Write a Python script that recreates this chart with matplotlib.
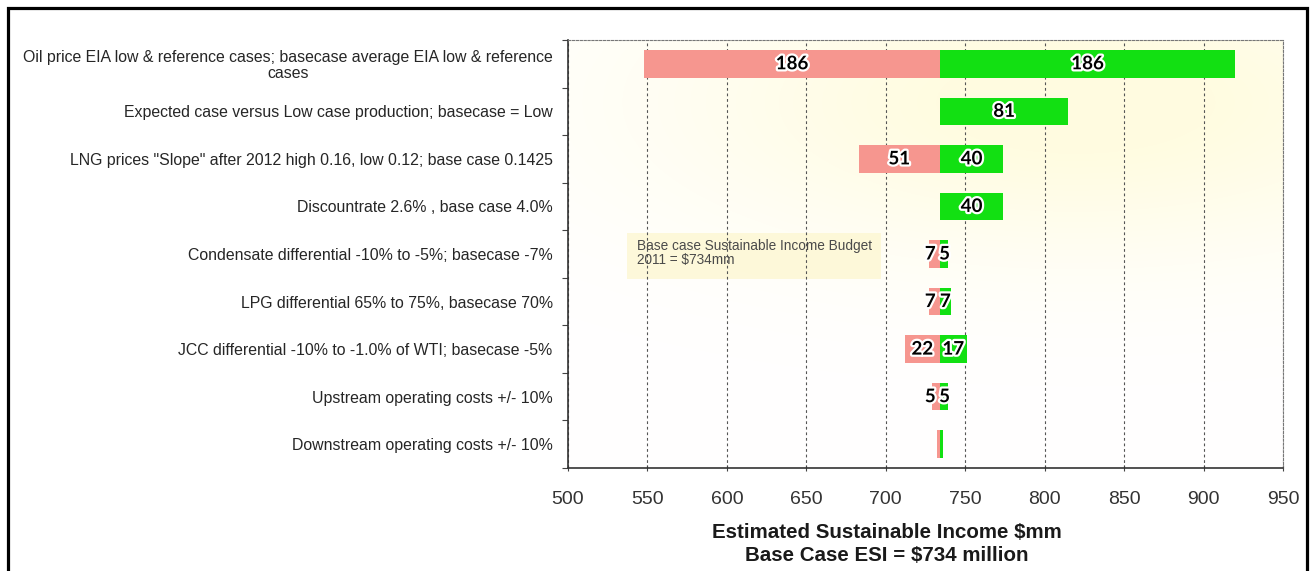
import numpy as np
import matplotlib
matplotlib.use("Agg")
import matplotlib.pyplot as plt
import matplotlib.patheffects as pe
from matplotlib.patches import Rectangle
from matplotlib.lines import Line2D

# ---- data ----
categories = [
    "Oil price EIA low & reference cases; basecase average EIA low & reference\ncases",
    "Expected case versus Low case production; basecase = Low",
    "LNG prices \"Slope\" after 2012 high 0.16, low 0.12; base case 0.1425",
    "Discountrate 2.6% , base case 4.0%",
    "Condensate differential -10% to -5%; basecase -7%",
    "LPG differential 65% to 75%, basecase 70%",
    "JCC differential -10% to -1.0% of WTI; basecase -5%",
    "Upstream operating costs +/- 10%",
    "Downstream operating costs +/- 10%",
]
base_esi = 734
downside = [186, 0, 51, 0, 7, 7, 22, 5, 2]
upside = [186, 81, 40, 40, 5, 7, 17, 5, 2]
labelled = [True, True, True, True, True, True, True, True, False]
xticks = [500, 550, 600, 650, 700, 750, 800, 850, 900, 950]
note_text = "Base case Sustainable Income Budget\n2011 = $734mm"
xlabel_text = "Estimated Sustainable Income $mm\nBase Case ESI = $734 million"

W, H = 1311, 571
RED = "#f6968f"
GREEN = "#12e012"

fig = plt.figure(figsize=(W / 100, H / 100), dpi=100)
fig.patch.set_facecolor("white")

ax = fig.add_axes([568 / W, 1 - 468 / H, (1283 - 568) / W, (468 - 40) / H])
ax.set_xlim(500, 950)
ax.set_ylim(8.5, -0.5)

# pale yellow glow behind the plot area
gx, gy = np.meshgrid(np.linspace(500, 950, 300), np.linspace(-0.5, 8.5, 200))
glow = np.exp(-(((gx - 820) / 260) ** 2 + ((gy - 0.8) / 3.2) ** 2))
glow = np.clip(glow * 1.1, 0, 1)
img = np.ones((200, 300, 4))
img[..., 1] = 1.0 - 0.012 * glow
img[..., 2] = 1.0 - 0.12 * glow
ax.imshow(img, extent=(500, 950, 8.5, -0.5), aspect="auto", zorder=0,
          interpolation="bilinear")

# note box
ax.add_patch(Rectangle((537, 3.55), 160, 0.97, facecolor="#fdf7d2",
                       edgecolor="none", alpha=0.8, zorder=0.5))
ax.text(543.5, 3.97, note_text, fontsize=9.8, color="#4a4a4a",
        family="Liberation Sans", va="center", ha="left", linespacing=1.0,
        zorder=3)

ax.grid(axis="x", color="#555555", linestyle=(0, (2.5, 2.5)), linewidth=0.8,
        zorder=1)
ax.set_axisbelow(True)

y = np.arange(len(categories))
ax.barh(y, [-d for d in downside], left=base_esi, height=0.58, color=RED,
        zorder=2)
ax.barh(y, upside, left=base_esi, height=0.58, color=GREEN, zorder=2)

stroke = [pe.withStroke(linewidth=3.2, foreground="white")]
label_kw = dict(ha="center", va="center", fontsize=13.5, fontweight="bold",
                family="Lato", color="black", path_effects=stroke, zorder=4)
for i in y:
    if not labelled[i]:
        continue
    if downside[i] > 0:
        xpos = min(base_esi - downside[i] / 2, base_esi - 6)
        ax.text(xpos, i, str(downside[i]), **label_kw)
    if upside[i] > 0:
        xpos = max(base_esi + upside[i] / 2, base_esi + 3)
        ax.text(xpos, i, str(upside[i]), **label_kw)

# axes styling
ax.set_yticks(y)
ax.set_yticklabels(categories, fontsize=11.4, family="Liberation Sans",
                   color="#262626", multialignment="center", linespacing=1.1)
ax.set_yticks(np.arange(-0.5, 9.0, 1.0), minor=True)
ax.tick_params(axis="y", which="major", length=0, pad=11)
ax.tick_params(axis="y", which="minor", length=4, direction="out",
               color="#444444", width=0.8)
ax.set_xticks(xticks)
ax.set_xticklabels([str(t) for t in xticks], fontsize=14,
                   family="Liberation Sans", color="#333333")
ax.tick_params(axis="x", length=5, direction="inout", color="#444444",
               width=0.8, pad=14)

for s in ("left", "bottom"):
    ax.spines[s].set_color("#333333")
    ax.spines[s].set_linewidth(1.2)
for s in ("top", "right"):
    ax.spines[s].set_color("#777777")
    ax.spines[s].set_linewidth(0.8)
    ax.spines[s].set_linestyle((0, (2, 1.5)))

fig.text(887 / W, 1 - 544 / H, xlabel_text, ha="center", va="center",
         fontsize=14.8, fontweight="bold", family="Liberation Sans",
         color="#1a1a1a", linespacing=1.25)

# outer frame
fig.add_artist(Line2D([7.5 / W, 7.5 / W, 1306.5 / W, 1306.5 / W],
                      [0, 1 - 7.5 / H, 1 - 7.5 / H, 0],
                      transform=fig.transFigure, color="black",
                      linewidth=2.3, solid_joinstyle="miter"))

fig.savefig("out.png", dpi=100)
